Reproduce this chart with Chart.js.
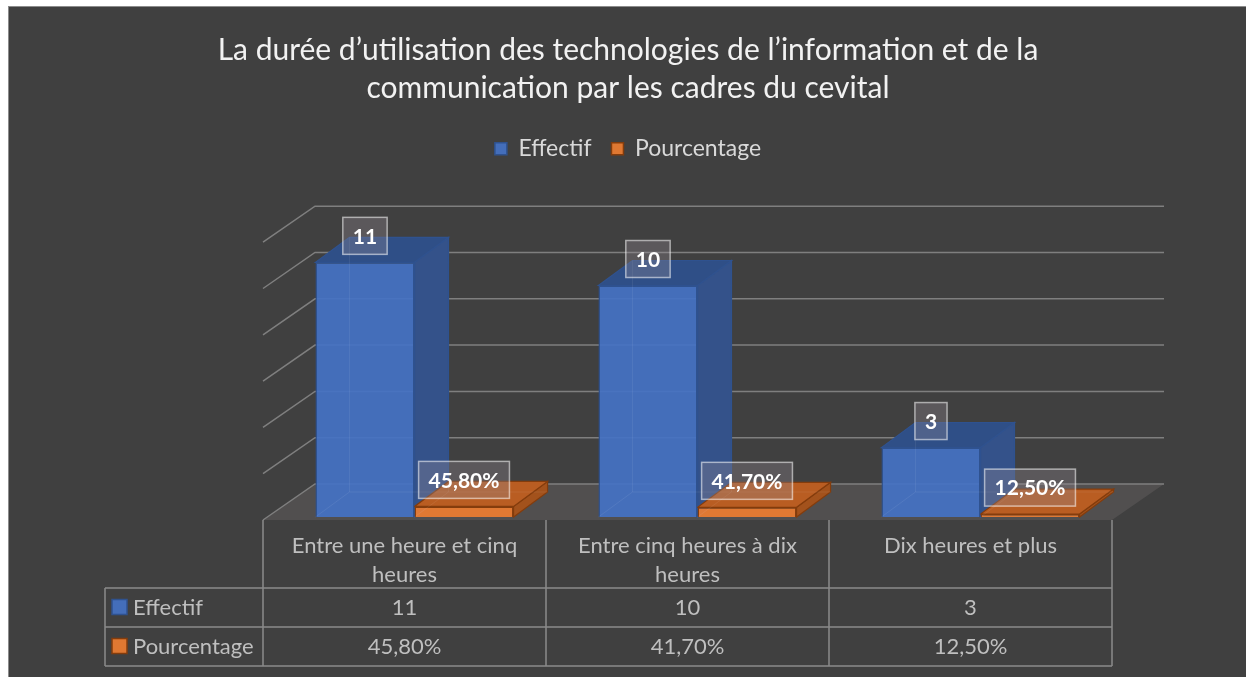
<!DOCTYPE html>
<html lang="fr">
<head>
<meta charset="utf-8">
<title>Durée d'utilisation des TIC</title>
<script src="https://cdn.jsdelivr.net/npm/chart.js@4.4.1/dist/chart.umd.min.js"></script>
<style>
  html, body { margin: 0; padding: 0; background: #fff; overflow: hidden; }
  #wrap { width: 1246px; height: 677px; }
  canvas { display: block; }
</style>
</head>
<body>
<div id="wrap"><canvas id="chart" width="1246" height="677"></canvas></div>
<script>
// data
const categories = [
  ['Entre une heure et cinq', 'heures'],
  ['Entre cinq heures à dix', 'heures'],
  ['Dix heures et plus']
];
const effectif = [11, 10, 3];
const pourcentage = [0.458, 0.417, 0.125];
const seriesNames = ['Effectif', 'Pourcentage'];
const yTicks = [0, 2, 4, 6, 8, 10, 12];

const FONT = 'Lato, "Open Sans", sans-serif';
const DEPTH = { x: 52, y: -36 };      // floor / back wall offset
const BAR_DEPTH = { x: 34, y: -25 };  // depth of each box
const BAR_SHIFT = { x: 10, y: -3 };   // boxes sit a bit inside the floor

const faces = [
  { front: 'rgba(68,114,196,0.92)', side: '#34528a', top: '#2f4f87', border: '#2f528f' },
  { front: 'rgba(237,125,49,0.92)', side: '#a3521c', top: '#b95d22', border: '#843c0c' }
];

const fmtPct = v => (v * 100).toFixed(2).replace('.', ',') + '%';
const labelText = (ds, v) => ds === 0 ? String(v) : fmtPct(v);

function poly(ctx, pts, fill, stroke, lw) {
  ctx.beginPath();
  pts.forEach(([px, py], i) => i ? ctx.lineTo(px, py) : ctx.moveTo(px, py));
  ctx.closePath();
  if (fill) { ctx.fillStyle = fill; ctx.fill(); }
  if (stroke) { ctx.strokeStyle = stroke; ctx.lineWidth = lw || 1; ctx.stroke(); }
}

function boxGeom(el) {
  const p = el.getProps(['x', 'y', 'base', 'width'], true);
  return {
    left: p.x - p.width / 2 + BAR_SHIFT.x,
    right: p.x + p.width / 2 + BAR_SHIFT.x,
    top: p.y + BAR_SHIFT.y,
    base: p.base + BAR_SHIFT.y,
    cx: p.x + BAR_SHIFT.x
  };
}

const scene3d = {
  id: 'scene3d',
  beforeDraw(chart) {
    const ctx = chart.ctx;
    ctx.save();
    ctx.fillStyle = '#fff';
    ctx.fillRect(0, 0, chart.width, chart.height);
    ctx.fillStyle = '#404040';
    ctx.fillRect(8, 6, chart.width, chart.height);
    ctx.strokeStyle = '#8c8c8c';
    ctx.lineWidth = 1;
    ctx.strokeRect(8.5, 6.5, chart.width + 10, chart.height + 10);
    ctx.restore();
  },
  beforeDatasetsDraw(chart) {
    const { ctx, chartArea: a, scales: { y } } = chart;
    const y0 = y.getPixelForValue(0);
    ctx.save();
    // floor
    poly(ctx, [[a.left, y0], [a.right, y0], [a.right + DEPTH.x, y0 + DEPTH.y], [a.left + DEPTH.x, y0 + DEPTH.y]], '#514f4f');
    // side wall + back wall gridlines
    ctx.strokeStyle = '#7f7f7f';
    ctx.lineWidth = 1.5;
    yTicks.forEach(t => {
      const yf = y.getPixelForValue(t);
      ctx.beginPath();
      ctx.moveTo(a.left, yf);
      ctx.lineTo(a.left + DEPTH.x, yf + DEPTH.y);
      ctx.lineTo(a.right + DEPTH.x, yf + DEPTH.y);
      ctx.stroke();
    });
    // side and top faces, category by category so nearer boxes overlap
    categories.forEach((c, i) => {
      chart.data.datasets.forEach((ds, d) => {
        const b = boxGeom(chart.getDatasetMeta(d).data[i]);
        const f = faces[d];
        const bx = BAR_DEPTH.x, by = BAR_DEPTH.y;
        poly(ctx, [[b.right, b.top], [b.right + bx, b.top + by], [b.right + bx, b.base + by], [b.right, b.base]], f.side, f.border, 1.2);
        poly(ctx, [[b.left, b.top], [b.right, b.top], [b.right + bx, b.top + by], [b.left + bx, b.top + by]], f.top, f.border, 1.2);
      });
    });
    ctx.restore();
    ctx.save();
    ctx.translate(BAR_SHIFT.x, BAR_SHIFT.y);
  },
  afterDatasetsDraw(chart) {
    const ctx = chart.ctx;
    ctx.restore();
    ctx.save();
    // faint hidden back edges seen through the boxes
    ctx.strokeStyle = 'rgba(255,255,255,0.07)';
    ctx.lineWidth = 1;
    chart.data.datasets.forEach((ds, d) => {
      chart.getDatasetMeta(d).data.forEach(el => {
        const b = boxGeom(el);
        ctx.beginPath();
        ctx.moveTo(b.left, b.base);
        ctx.lineTo(b.left + BAR_DEPTH.x, b.base + BAR_DEPTH.y);
        ctx.lineTo(b.left + BAR_DEPTH.x, b.top + BAR_DEPTH.y);
        ctx.moveTo(b.left + BAR_DEPTH.x, b.base + BAR_DEPTH.y);
        ctx.lineTo(b.right + BAR_DEPTH.x, b.base + BAR_DEPTH.y);
        ctx.stroke();
      });
    });
    // value labels
    ctx.font = 'bold 21px ' + FONT;
    ctx.textAlign = 'center';
    ctx.textBaseline = 'middle';
    chart.data.datasets.forEach((ds, d) => {
      chart.getDatasetMeta(d).data.forEach((el, i) => {
        const b = boxGeom(el);
        const txt = labelText(d, ds.data[i]);
        const w = ctx.measureText(txt).width + 20, h = 37;
        const bx = b.cx - w / 2, by = b.top - 8 - h;
        ctx.fillStyle = 'rgba(150,140,150,0.32)';
        ctx.fillRect(bx, by, w, h);
        ctx.strokeStyle = 'rgba(255,255,255,0.55)';
        ctx.lineWidth = 1.5;
        ctx.strokeRect(bx, by, w, h);
        ctx.fillStyle = '#ffffff';
        ctx.fillText(txt, b.cx, by + h / 2 + 1);
      });
    });
    ctx.restore();
  },
  afterDraw(chart) {
    // data table under the plot
    const { ctx, chartArea: a, scales: { x } } = chart;
    const n = categories.length;
    const cw = (x.right - x.left) / n;
    const rows = [a.bottom, a.bottom + 68, a.bottom + 107, a.bottom + 146];
    const labelLeft = 105;
    ctx.save();
    ctx.strokeStyle = '#8a8a8a';
    ctx.lineWidth = 1.5;
    ctx.beginPath();
    for (let k = 0; k <= n; k++) {
      const lx = x.left + k * cw;
      ctx.moveTo(lx, rows[0]);
      ctx.lineTo(lx, rows[3]);
    }
    ctx.moveTo(labelLeft, rows[1]);
    ctx.lineTo(labelLeft, rows[3]);
    [1, 2, 3].forEach(r => {
      ctx.moveTo(labelLeft, rows[r]);
      ctx.lineTo(x.right, rows[r]);
    });
    ctx.stroke();

    ctx.font = '22px ' + FONT;
    ctx.fillStyle = '#bfbfbf';
    ctx.textAlign = 'center';
    ctx.textBaseline = 'middle';
    categories.forEach((lines, i) => {
      const cx = x.getPixelForValue(i);
      lines.forEach((ln, j) => ctx.fillText(ln, cx, rows[0] + 26 + j * 29));
      ctx.fillText(String(effectif[i]), cx, (rows[1] + rows[2]) / 2);
      ctx.fillText(fmtPct(pourcentage[i]), cx, (rows[2] + rows[3]) / 2);
    });
    seriesNames.forEach((name, d) => {
      const cy = (rows[d + 1] + rows[d + 2]) / 2;
      ctx.fillStyle = faces[d].front;
      ctx.fillRect(112, cy - 8, 15, 15);
      ctx.strokeStyle = faces[d].border;
      ctx.lineWidth = 1.5;
      ctx.strokeRect(112, cy - 8, 15, 15);
      ctx.fillStyle = '#bfbfbf';
      ctx.textAlign = 'left';
      ctx.fillText(name, 133, cy);
    });
    ctx.restore();
  }
};

new Chart(document.getElementById('chart'), {
  type: 'bar',
  data: {
    labels: categories,
    datasets: [
      {
        label: seriesNames[0],
        data: effectif,
        backgroundColor: faces[0].front,
        borderColor: faces[0].border,
        borderWidth: 1.5
      },
      {
        label: seriesNames[1],
        data: pourcentage,
        backgroundColor: faces[1].front,
        borderColor: faces[1].border,
        borderWidth: 1.5
      }
    ]
  },
  options: {
    responsive: false,
    animation: false,
    layout: { padding: { left: 144, right: 134, top: 0, bottom: 0 } },
    datasets: { bar: { categoryPercentage: 0.7, barPercentage: 1.0 } },
    plugins: {
      title: {
        display: true,
        text: [
          'La durée d’utilisation des technologies de l’information et de la',
          'communication par les cadres du cevital'
        ],
        color: '#f2f2f2',
        font: { family: FONT, size: 30, weight: 'normal', lineHeight: 1.27 },
        padding: { top: 31, bottom: 10 }
      },
      legend: {
        display: true,
        position: 'top',
        labels: {
          color: '#d9d9d9',
          font: { family: FONT, size: 23 },
          boxWidth: 12,
          boxHeight: 12,
          padding: 20
        }
      },
      tooltip: { enabled: false }
    },
    scales: {
      x: {
        position: 'bottom',
        grid: { display: false },
        border: { display: false },
        ticks: { display: false },
        afterFit: s => { s.height = 157; }
      },
      xTop: {
        type: 'category',
        position: 'top',
        grid: { display: false },
        border: { display: false },
        ticks: { display: false },
        afterFit: s => { s.height = 72; }
      },
      y: {
        min: 0,
        max: 12,
        ticks: { display: false, stepSize: 2 },
        grid: { display: false },
        border: { display: false },
        afterFit: s => { s.width = 119; }
      }
    }
  },
  plugins: [scene3d]
});
</script>
</body>
</html>
